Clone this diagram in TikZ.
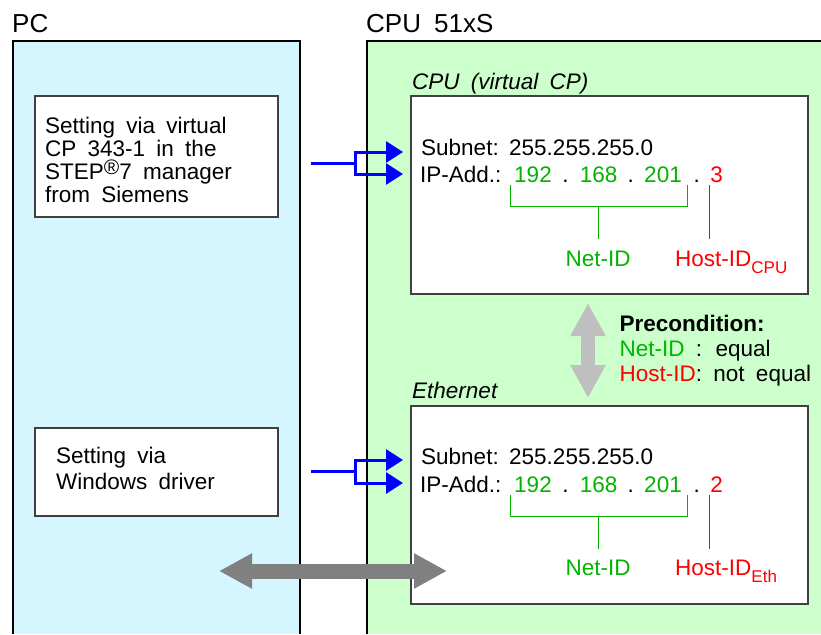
\documentclass[tikz,border=0pt]{standalone}
\usepackage{fontspec}
\setmainfont{Liberation Sans}
\usepackage{xcolor}
\usetikzlibrary{arrows.meta}
\definecolor{pcblue}{RGB}{213,245,255}
\definecolor{cpugreen}{RGB}{204,255,204}
\definecolor{netgreen}{RGB}{0,180,0}
\definecolor{hostred}{RGB}{255,0,0}
\newcommand{\widesp}{\spaceskip=0.5em\relax}
\newcommand{\hostsub}[1]{\raisebox{-7.5pt}{\fontsize{17}{17}\selectfont #1}}
\tikzset{>=latex}
\tikzset{
	txt/.style={inner sep=0pt, font=\fontsize{22.5}{23}\selectfont\widesp},
	ibox/.style={draw=black!75, line width=1.2pt, fill=white},
	fatarrow/.style={{Triangle[length=33pt,width=33pt]}-{Triangle[length=33pt,width=33pt]}},
	setarrow/.style={blue, line width=3pt, -{Triangle[length=17pt,width=21pt]}},
}

\begin{document}
\begin{tikzpicture}[x=1pt, y=-1pt]
	\useasboundingbox (0,0) rectangle (821,634);
	
	% Blocks
	\fill[pcblue] (13,41) rectangle (300,634);
	\draw[line width=2pt] (13,634) -- (13,41) -- (300,41) -- (300,634);
	\fill[cpugreen] (367,41) rectangle (821,634);
	\draw[line width=2pt] (367,634) -- (367,41) -- (821,41);
	\node[txt, font=\fontsize{26}{26}\selectfont, anchor=base west] (pc) at (12,33) {PC};
	\node[txt, font=\fontsize{26}{26}\selectfont\widesp, anchor=base west] (cpu) at (366,33) {CPU 51xS};
	
	% PC side
	\draw[ibox] (35,96) rectangle (278,217);
	\node[txt, anchor=north west, align=left] (via1) at (45,116.5) {Setting via virtual\\CP 343-1 in the\\STEP\raisebox{5pt}{\fontsize{21}{21}\selectfont\textregistered}7 manager\\from Siemens};
	\draw[ibox] (35,428) rectangle (278,516);
	\node[txt, anchor=north west, align=left, font=\fontsize{22.5}{26}\selectfont\widesp] (via2) at (56,446.5) {Setting via\\Windows driver};
	
	%% CPU (virtual CP)
	\coordinate[](bA1) at (510,185);
	\coordinate[](bA2) at (510,206);
	\coordinate[](bA3) at (687,206);
	\coordinate[](bA4) at (687,185);
	\coordinate[](sA) at (598,206);
	\coordinate[](sAA) at (598,239);
	\coordinate[](hA) at (709,185);
	\coordinate[](hAA) at (709,239);
	
	\node[txt, font=\fontsize{22.5}{23}\selectfont\itshape\widesp, anchor=base west] (lblA) at (412,89) {CPU (virtual CP)};
	\draw[ibox] (411,96) rectangle (808,294);
	\node[txt, anchor=base west] (subA) at (421,155) {Subnet:};
	\node[txt, anchor=base west] (maskA) at (509,155) {255.255.255.0};
	\node[txt, anchor=base west] (ipA) at (420,182) {IP-Add.:};
	\node[txt, anchor=base, netgreen] (n1A) at (533,182) {192};
	\node[txt, anchor=base] (d1A) at (565.5,182) {.};
	\node[txt, anchor=base, netgreen] (n2A) at (598.7,182) {168};
	\node[txt, anchor=base] (d2A) at (630.7,182) {.};
	\node[txt, anchor=base, netgreen] (n3A) at (663,182) {201};
	\node[txt, anchor=base] (d3A) at (696.7,182) {.};
	\node[txt, anchor=base, hostred] (n4A) at (716.7,182) {3};
	\draw[netgreen, line width=1pt] (bA1) -- (bA2) -- (bA3) -- (bA4);
	\draw[netgreen, line width=1pt] (sA) -- (sAA);
	\draw[hostred, line width=1pt] (hA) -- (hAA);
	\node[txt, anchor=base, netgreen] (netA) at (598,266) {Net-ID};
	\node[txt, anchor=base west, hostred] (hostA) at (675,266) {Host-ID\hostsub{CPU}};
	
	%% Ethernet
	\coordinate[](bB1) at (510,495);
	\coordinate[](bB2) at (510,516);
	\coordinate[](bB3) at (687,516);
	\coordinate[](bB4) at (687,495);
	\coordinate[](sB) at (598,516);
	\coordinate[](sBB) at (598,549);
	\coordinate[](hB) at (709,495);
	\coordinate[](hBB) at (709,549);
	
	\node[txt, font=\fontsize{22.5}{23}\selectfont\itshape, anchor=base west] (lblB) at (412,398) {Ethernet};
	\draw[ibox] (411,406) rectangle (808,604);
	\node[txt, anchor=base west] (subB) at (421,464) {Subnet:};
	\node[txt, anchor=base west] (maskB) at (509,464) {255.255.255.0};
	\node[txt, anchor=base west] (ipB) at (420,492) {IP-Add.:};
	\node[txt, anchor=base, netgreen] (n1B) at (533,492) {192};
	\node[txt, anchor=base] (d1B) at (565.5,492) {.};
	\node[txt, anchor=base, netgreen] (n2B) at (598.7,492) {168};
	\node[txt, anchor=base] (d2B) at (630.7,492) {.};
	\node[txt, anchor=base, netgreen] (n3B) at (663,492) {201};
	\node[txt, anchor=base] (d3B) at (696.7,492) {.};
	\node[txt, anchor=base, hostred] (n4B) at (716.7,492) {2};
	\draw[netgreen, line width=1pt] (bB1) -- (bB2) -- (bB3) -- (bB4);
	\draw[netgreen, line width=1pt] (sB) -- (sBB);
	\draw[hostred, line width=1pt] (hB) -- (hBB);
	\node[txt, anchor=base, netgreen] (netB) at (598,575) {Net-ID};
	\node[txt, anchor=base west, hostred] (hostB) at (675,575) {Host-ID\hostsub{Eth}};
	
	%% Precondition
	\node[txt, anchor=north west, align=left, font=\fontsize{22.5}{25}\selectfont\widesp] (pre) at (619.5,315) {\textbf{Precondition:}\\\rlap{\color{netgreen}Net-ID}\phantom{Host-ID}: equal\\{\color{hostred}Host-ID}: not equal};
	
	%% Arrows
	\coordinate[](srcA) at (311,163);
	\coordinate[](jA) at (355,163);
	\coordinate[](tA1) at (403,152);
	\coordinate[](tA2) at (403,174);
	\coordinate[](srcB) at (311,471);
	\coordinate[](jB) at (355,471);
	\coordinate[](tB1) at (403,460);
	\coordinate[](tB2) at (403,483);
	\coordinate[](vt) at (588,303);
	\coordinate[](vb) at (588,398);
	\coordinate[](hl) at (219,571);
	\coordinate[](hr) at (447,571);
	
	\draw[blue, line width=3pt] (srcA) -- (jA);
	\draw[setarrow] (jA) |- (tA1);
	\draw[setarrow] (jA) |- (tA2);
	\draw[blue, line width=3pt] (srcB) -- (jB);
	\draw[setarrow] (jB) |- (tB1);
	\draw[setarrow] (jB) |- (tB2);
	\draw[fatarrow, draw=gray!50, fill=gray!50, line width=14pt] (vt) -- (vb);
	\draw[fatarrow, draw=gray, fill=gray, line width=15pt] (hl) -- (hr);
	
\end{tikzpicture}
\end{document}
